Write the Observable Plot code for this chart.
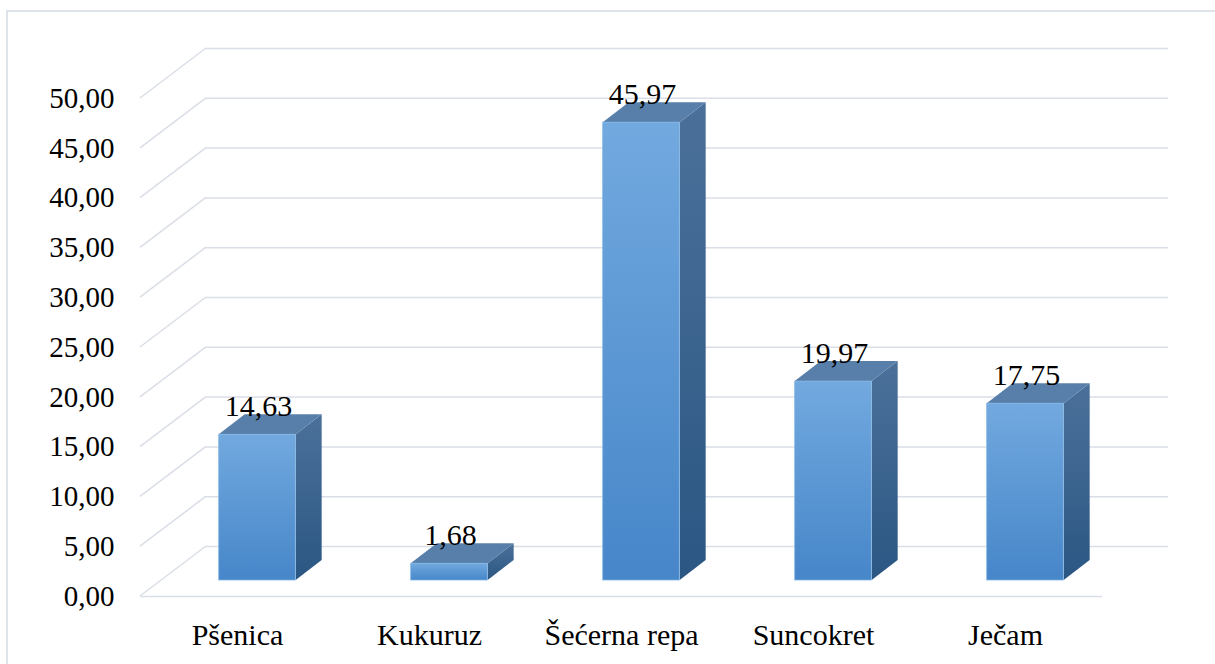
<!DOCTYPE html>
<html>
<head>
<meta charset="utf-8">
<script src="https://cdn.jsdelivr.net/npm/d3@7"></script>
<script src="https://cdn.jsdelivr.net/npm/@observablehq/plot@0.6"></script>
<style>
  html, body { margin: 0; padding: 0; background: #ffffff; overflow: hidden; }
  #frame { position: absolute; left: 6px; top: 10px; width: 1230px; height: 700px;
           border: 2px solid #dfe3ea; box-sizing: border-box; }
  #chart { position: absolute; left: 0; top: 0; }
  #err { position: absolute; left: 300px; top: 20px; color: red; font: 14px monospace; }
</style>
</head>
<body>
<div id="frame"></div>
<div id="chart"></div>
<div id="err"></div>
<script>
// ---- data ----
const categories = ["Pšenica", "Kukuruz", "Šećerna repa", "Suncokret", "Ječam"];
const values = [14.63, 1.68, 45.97, 19.97, 17.75];
const yTicks = [0, 5, 10, 15, 20, 25, 30, 35, 40, 45, 50];

const data = categories.map((c, i) => ({category: c, value: values[i]}));
const fmt = d => d3.format(".2f")(d).replace(".", ",");

// ---- 3D style (pixel offsets) ----
const DEPTH = {dx: 66, dy: -50};      // floor / wall depth
const BAR_FRONT = {dx: 20, dy: -16};  // bar front plane offset
const BAR_DEPTH = {dx: 26, dy: -20};  // bar thickness
const BAR_FRAC = 0.4;                 // bar width as fraction of band
const GRID = "#dadee6";
const FONT = "'Liberation Serif', 'Times New Roman', serif";

const defs = () => {
  const s = d3.create("svg:defs");
  const g1 = s.append("linearGradient").attr("id", "gFront").attr("x1", 0).attr("y1", 0).attr("x2", 0).attr("y2", 1);
  g1.append("stop").attr("offset", "0%").attr("stop-color", "#72a9df");
  g1.append("stop").attr("offset", "100%").attr("stop-color", "#4686c9");
  const g2 = s.append("linearGradient").attr("id", "gSide").attr("x1", 0).attr("y1", 0).attr("x2", 0).attr("y2", 1);
  g2.append("stop").attr("offset", "0%").attr("stop-color", "#4b719a");
  g2.append("stop").attr("offset", "100%").attr("stop-color", "#2b5683");
  return s.node();
};

const diagonals = (index, scales, vals, dims) => {
  const {y} = scales;
  const x0 = dims.marginLeft;
  const g = d3.create("svg:g").attr("stroke", GRID).attr("stroke-width", 1.5).attr("fill", "none");
  g.selectAll("line").data(yTicks).join("line")
    .attr("x1", x0).attr("y1", d => y(d))
    .attr("x2", x0 + DEPTH.dx).attr("y2", d => y(d) + DEPTH.dy);
  return g.node();
};

const barFaces = (index, scales, vals, dims) => {
  const g = d3.create("svg:g");
  try {
    const {x, y} = scales;
    const n = categories.length;
    const bw = (x.bandwidth && x.bandwidth > 0) ? x.bandwidth : (dims.width - dims.marginLeft - dims.marginRight) / n;
    data.forEach(d => {
      const L = x(d.category) + bw * (0.5 - BAR_FRAC / 2) + BAR_FRONT.dx;
      const R = L + bw * BAR_FRAC;
      const T = y(d.value) + BAR_FRONT.dy;
      const B = y(0) + BAR_FRONT.dy;
      const ddx = BAR_DEPTH.dx, ddy = BAR_DEPTH.dy;
      g.append("path")
        .attr("d", `M${R},${T}L${R + ddx},${T + ddy}L${R + ddx},${B + ddy}L${R},${B}Z`)
        .attr("fill", "url(#gSide)");
      g.append("path")
        .attr("d", `M${L},${T}L${R},${T}L${R + ddx},${T + ddy}L${L + ddx},${T + ddy}Z`)
        .attr("fill", "#587fa9");
    });
  } catch (e) {
    document.getElementById("err").textContent = "faces: " + e;
  }
  return g.node();
};

try {
const chart = Plot.plot({
  width: 1215,
  height: 664,
  marginLeft: 140,
  marginRight: 113,
  marginTop: 98,
  marginBottom: 68,
  style: {fontFamily: FONT, fontSize: "29px", color: "#000", background: "transparent", overflow: "visible"},
  x: {type: "band", domain: categories, padding: 0},
  y: {domain: [0, 50]},
  marks: [
    defs,
    Plot.ruleY(yTicks, {stroke: GRID, strokeWidth: 1.5, dx: DEPTH.dx, dy: DEPTH.dy}),
    diagonals,
    Plot.ruleY([0], {stroke: GRID, strokeWidth: 1.5}),
    barFaces,
    Plot.barY(data, {
      x: "category", y: "value", fill: "url(#gFront)", stroke: "#80b3e5", strokeWidth: 0.8,
      insetLeft: (1 - BAR_FRAC) / 2 * 192.4, insetRight: (1 - BAR_FRAC) / 2 * 192.4,
      dx: BAR_FRONT.dx, dy: BAR_FRONT.dy
    }),
    Plot.text(data, {
      x: "category", y: "value", text: d => fmt(d.value),
      dx: BAR_FRONT.dx + 1, dy: BAR_FRONT.dy + BAR_DEPTH.dy + 1,
      lineAnchor: "bottom", fontSize: 30, fill: "#000", fontFamily: FONT
    }),
    Plot.axisY(yTicks, {tickSize: 0, tickPadding: 26, tickFormat: fmt, fontSize: 29, label: null, fill: "#000", fontFamily: FONT}),
    Plot.axisX({tickSize: 0, tickPadding: 27, fontSize: 30, label: null, fill: "#000", fontFamily: FONT})
  ]
});
document.getElementById("chart").appendChild(chart);
} catch (e) {
  document.getElementById("err").textContent = "plot: " + e;
}
</script>
</body>
</html>
